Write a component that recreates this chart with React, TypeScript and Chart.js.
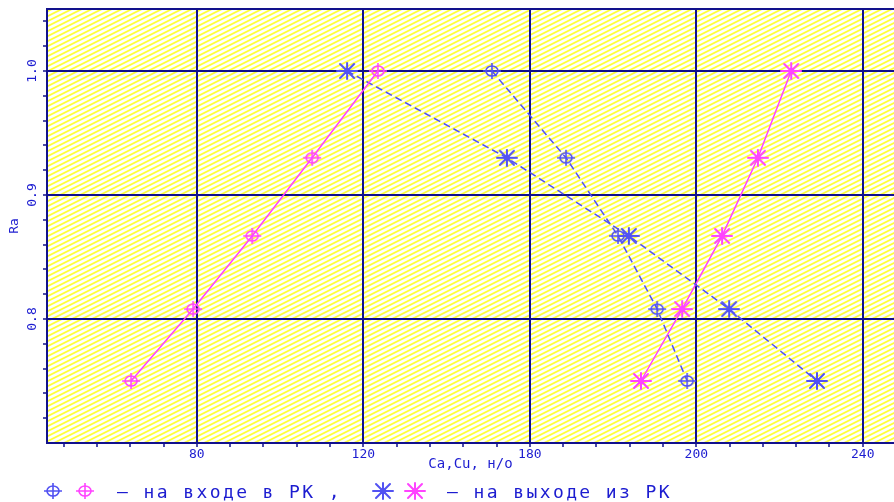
import React, { useEffect, useRef } from 'react';
import { Chart, registerables } from 'chart.js';

Chart.register(...registerables);

// Ra levels (shared by all four curves)
const levelsRa = [1.0, 0.93, 0.867, 0.808, 0.75];
// Ce,Cu values
const inletBlueX = [150.9, 168.7, 181.2, 190.6, 197.8];
const inletPinkX = [123.5, 107.7, 93.3, 79.1, 64.2];
const outletBlueX = [116.1, 154.5, 183.8, 207.9, 229.0];
const outletPinkX = [222.8, 214.8, 206.2, 196.6, 186.7];

const xTickValues = [80, 120, 160, 200, 240];
const xTickLabels = ['80', '120', '180', '200', '240'];
const yTickValues = [0.8, 0.9, 1.0];
const yTickLabels = ['0.8', '0.9', '1.0'];

const xTitle = 'Ca,Cu, н/о';
const yTitle = 'Ra';
const legendIn = '– на входе в РК ,';
const legendOut = '– на выходе из РК';

const NAVY = '#12128c';
const BLUE = '#5252f2';
const PINK = '#ff44ff';
const TEXT = '#1c1cd0';
const MONO = '"DejaVu Sans Mono", monospace';

function stepTicks(min: number, max: number, step: number, skipMin: boolean) {
  const out: { value: number }[] = [];
  let k = Math.ceil(min / step - 1e-9);
  for (; k * step <= max + 1e-9; k++) {
    const v = Math.round(k * step * 1e6) / 1e6;
    if (skipMin && Math.abs(v - min) < 1e-9) continue;
    out.push({ value: v });
  }
  return out;
}

function mkDiamond(color: string) {
  const c = document.createElement('canvas');
  c.width = 20;
  c.height = 18;
  const g = c.getContext('2d')!;
  g.strokeStyle = color;
  g.lineWidth = 1.6;
  g.beginPath();
  g.ellipse(10, 9, 6, 5, 0, 0, Math.PI * 2);
  g.stroke();
  g.beginPath();
  g.moveTo(1, 9);
  g.lineTo(19, 9);
  g.moveTo(10, 1);
  g.lineTo(10, 17);
  g.stroke();
  return c;
}

function mkStar(color: string) {
  const c = document.createElement('canvas');
  c.width = 22;
  c.height = 18;
  const g = c.getContext('2d')!;
  g.strokeStyle = color;
  g.lineWidth = 2;
  g.lineCap = 'round';
  g.beginPath();
  g.moveTo(1, 9);
  g.lineTo(21, 9);
  g.moveTo(11, 1);
  g.lineTo(11, 17);
  g.moveTo(4, 2);
  g.lineTo(18, 16);
  g.moveTo(18, 2);
  g.lineTo(4, 16);
  g.stroke();
  g.fillStyle = color;
  g.beginPath();
  g.arc(11, 9, 3, 0, Math.PI * 2);
  g.fill();
  return c;
}

function mkHatch() {
  const c = document.createElement('canvas');
  c.width = 10;
  c.height = 5;
  const g = c.getContext('2d')!;
  g.fillStyle = '#ffffff';
  g.fillRect(0, 0, 10, 5);
  g.strokeStyle = '#ffff3a';
  g.lineWidth = 1.8;
  for (let k = -2; k <= 2; k++) {
    g.beginPath();
    g.moveTo(-1, 5 + 0.5 + k * 5);
    g.lineTo(11, 5 - 5.5 + k * 5);
    g.stroke();
  }
  return c;
}

function pts(xs: number[]) {
  return xs.map((x, i) => ({ x, y: levelsRa[i] }));
}

export default function App() {
  const ref = useRef<HTMLCanvasElement>(null);

  useEffect(() => {
    const canvas = ref.current!;
    const dBlue = mkDiamond(BLUE);
    const dPink = mkDiamond(PINK);
    const sBlue = mkStar(BLUE);
    const sPink = mkStar(PINK);
    const hatch = mkHatch();

    const decor = {
      id: 'decor',
      beforeDraw(chart: any) {
        const { ctx, chartArea: a } = chart;
        ctx.save();
        ctx.fillStyle = ctx.createPattern(hatch, 'repeat');
        ctx.fillRect(a.left, a.top, a.right - a.left, a.bottom - a.top);
        ctx.restore();
      },
      beforeDatasetsDraw(chart: any) {
        const { ctx, chartArea: a } = chart;
        ctx.save();
        ctx.strokeStyle = NAVY;
        ctx.lineWidth = 2;
        ctx.beginPath();
        ctx.moveTo(a.left - 1, a.top);
        ctx.lineTo(a.right, a.top);
        ctx.stroke();
        ctx.restore();
      },
      afterDraw(chart: any) {
        const { ctx, chartArea: a } = chart;
        const ys = chart.scales.y;
        ctx.save();
        ctx.fillStyle = TEXT;
        ctx.textAlign = 'center';
        ctx.textBaseline = 'middle';
        ctx.font = '13px ' + MONO;
        yTickValues.forEach((v, i) => {
          const py = ys.getPixelForValue(v);
          ctx.save();
          ctx.translate(33, py);
          ctx.rotate(-Math.PI / 2);
          ctx.fillText(yTickLabels[i], 0, 0);
          ctx.restore();
        });
        ctx.save();
        ctx.font = '13px ' + MONO;
        ctx.translate(15, (a.top + a.bottom) / 2);
        ctx.rotate(-Math.PI / 2);
        ctx.fillText(yTitle, 0, 0);
        ctx.restore();

        // legend
        const ly = 491;
        const put = (img: HTMLCanvasElement, x: number) =>
          ctx.drawImage(img, x - img.width / 2, ly - img.height / 2);
        put(dBlue, 53);
        put(dPink, 85);
        put(sBlue, 383);
        put(sPink, 415);
        ctx.font = '18px ' + MONO;
        (ctx as any).letterSpacing = '2.4px';
        ctx.textAlign = 'left';
        ctx.textBaseline = 'alphabetic';
        ctx.fillText(legendIn, 117, 498);
        ctx.fillText(legendOut, 447, 498);
        ctx.restore();
      },
    };

    const majorX = (v: number) => xTickValues.some((t) => Math.abs(t - v) < 1e-6);
    const majorY = (v: number) => yTickValues.some((t) => Math.abs(t - v) < 1e-6);

    const chart = new Chart(canvas, {
      type: 'scatter',
      data: {
        datasets: [
          {
            label: 'inlet blue',
            data: pts(inletBlueX),
            showLine: true,
            borderColor: BLUE,
            borderWidth: 1.5,
            borderDash: [7, 4],
            pointStyle: dBlue as any,
            pointRadius: 7,
          },
          {
            label: 'inlet pink',
            data: pts(inletPinkX),
            showLine: true,
            borderColor: PINK,
            borderWidth: 1.5,
            pointStyle: dPink as any,
            pointRadius: 7,
          },
          {
            label: 'outlet blue',
            data: pts(outletBlueX),
            showLine: true,
            borderColor: BLUE,
            borderWidth: 1.5,
            borderDash: [7, 4],
            pointStyle: sBlue as any,
            pointRadius: 7,
          },
          {
            label: 'outlet pink',
            data: pts(outletPinkX),
            showLine: true,
            borderColor: PINK,
            borderWidth: 1.5,
            pointStyle: sPink as any,
            pointRadius: 7,
          },
        ],
      },
      options: {
        animation: false,
        responsive: false,
        layout: { autoPadding: false, padding: { top: 9, left: 0, right: 0, bottom: 29 } },
        plugins: { legend: { display: false }, tooltip: { enabled: false } },
        scales: {
          x: {
            type: 'linear',
            min: 44,
            max: 247.5,
            afterBuildTicks: (s: any) => {
              s.ticks = stepTicks(s.min, s.max, 8, false);
            },
            afterFit: (s: any) => {
              s.height = 30;
              s.paddingLeft = 0;
              s.paddingRight = 0;
            },
            ticks: {
              stepSize: 8,
              autoSkip: false,
              maxRotation: 0,
              minRotation: 0,
              padding: 0,
              color: TEXT,
              font: { family: MONO, size: 13 },
              callback: (v: any) => {
                const i = xTickValues.findIndex((t) => Math.abs(t - v) < 1e-6);
                return i >= 0 ? xTickLabels[i] : '';
              },
            },
            grid: {
              color: (c: any) => (c.tick && majorX(c.tick.value) ? NAVY : 'rgba(0,0,0,0)'),
              lineWidth: 2,
              tickColor: NAVY,
              tickLength: 4,
              tickWidth: 1.5,
            },
            border: { display: true, color: NAVY, width: 2 },
            title: {
              display: true,
              text: xTitle,
              color: TEXT,
              font: { family: MONO, size: 14 },
              padding: 0,
            },
          },
          y: {
            type: 'linear',
            min: 0.7,
            max: 1.05,
            afterBuildTicks: (s: any) => {
              s.ticks = stepTicks(s.min, s.max, 0.02, true);
            },
            afterFit: (s: any) => {
              s.width = 47;
              s.paddingTop = 0;
              s.paddingBottom = 0;
            },
            ticks: {
              stepSize: 0.02,
              autoSkip: false,
              padding: 0,
              callback: () => '',
            },
            grid: {
              color: (c: any) => (c.tick && majorY(c.tick.value) ? NAVY : 'rgba(0,0,0,0)'),
              lineWidth: 2,
              tickColor: NAVY,
              tickLength: 4,
              tickWidth: 1.5,
            },
            border: { display: true, color: NAVY, width: 2 },
          },
        },
      },
      plugins: [decor],
    } as any);

    return () => chart.destroy();
  }, []);

  return (
    <div style={{ position: 'absolute', left: 0, top: 0, width: 894, height: 502, background: '#fff' }}>
      <canvas ref={ref} width={894} height={502} style={{ display: 'block' }} />
    </div>
  );
}
